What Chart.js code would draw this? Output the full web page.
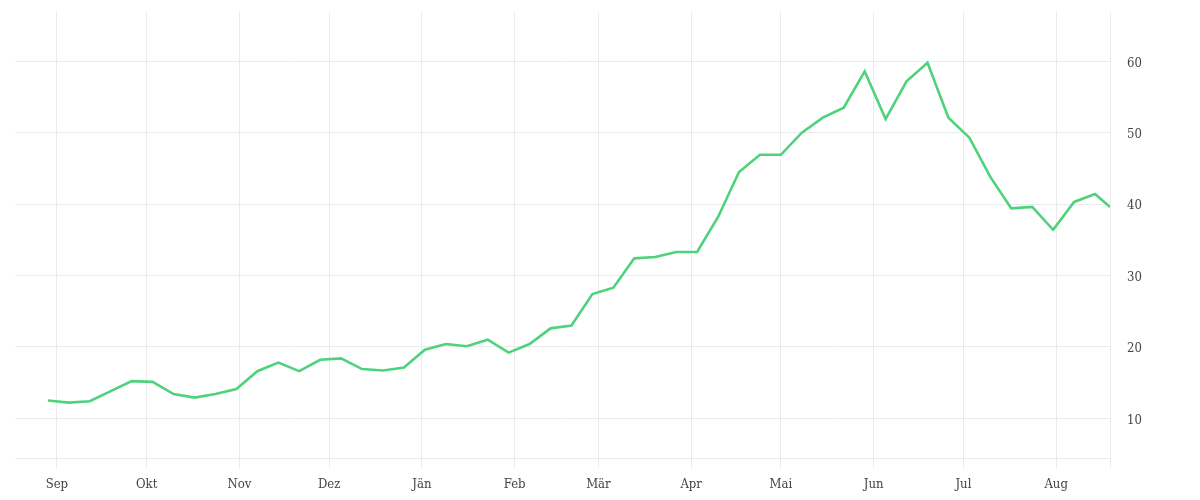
<!DOCTYPE html>
<html>
<head>
<meta charset="utf-8">
<script src="https://cdn.jsdelivr.net/npm/chart.js@4"></script>
<style>
  html, body { margin: 0; padding: 0; background: #fff; }
  #wrap { width: 1200px; height: 500px; }
</style>
</head>
<body>
<div id="wrap"><canvas id="c" width="1200" height="500"></canvas></div>
<script>
// ---- data ----
const dates = [
  "2022-08-29","2022-09-05","2022-09-12","2022-09-19","2022-09-26",
  "2022-10-03","2022-10-10","2022-10-17","2022-10-24","2022-10-31",
  "2022-11-07","2022-11-14","2022-11-21","2022-11-28",
  "2022-12-05","2022-12-12","2022-12-19","2022-12-26",
  "2023-01-02","2023-01-09","2023-01-16","2023-01-23","2023-01-30",
  "2023-02-06","2023-02-13","2023-02-20","2023-02-27",
  "2023-03-06","2023-03-13","2023-03-20","2023-03-27",
  "2023-04-03","2023-04-10","2023-04-17","2023-04-24",
  "2023-05-01","2023-05-08","2023-05-15","2023-05-22","2023-05-29",
  "2023-06-05","2023-06-12","2023-06-19","2023-06-26",
  "2023-07-03","2023-07-10","2023-07-17","2023-07-24","2023-07-31",
  "2023-08-07","2023-08-14","2023-08-19"
];
const values = [
  12.5, 12.2, 12.4, 13.8, 15.2,
  15.1, 13.4, 12.9, 13.4, 14.1,
  16.6, 17.8, 16.6, 18.2,
  18.4, 16.9, 16.7, 17.1,
  19.6, 20.4, 20.1, 21.0, 19.2,
  20.4, 22.6, 23.0, 27.4,
  28.3, 32.4, 32.6, 33.3,
  33.3, 38.2, 44.5, 46.9,
  46.9, 50.0, 52.1, 53.5, 58.6,
  51.9, 57.2, 59.8, 52.1,
  49.3, 43.8, 39.4, 39.6, 36.4,
  40.3, 41.4, 39.6
];
const monthStarts = ["2022-09-01","2022-10-01","2022-11-01","2022-12-01","2023-01-01","2023-02-01",
                     "2023-03-01","2023-04-01","2023-05-01","2023-06-01","2023-07-01","2023-08-01"];
const monthLabels = ["Sep","Okt","Nov","Dez","Jän","Feb","Mär","Apr","Mai","Jun","Jul","Aug"];
const yTicks = [10, 20, 30, 40, 50, 60];

// ---- helpers ----
const origin = Date.UTC(2022, 8, 1);
function dayOf(s) {
  const p = s.split("-").map(Number);
  return Math.round((Date.UTC(p[0], p[1] - 1, p[2]) - origin) / 86400000);
}
const xDays = dates.map(dayOf);
const monthDays = monthStarts.map(dayOf);
const xMax = xDays[xDays.length - 1];
const xMin = xMax - 366;

const points = xDays.map((d, i) => ({ x: d, y: values[i] }));
const FONT = { family: "'DejaVu Serif Condensed', 'DejaVu Serif', serif", size: 13 };
const GRID = '#ebebeb';

new Chart(document.getElementById('c'), {
  type: 'line',
  data: {
    datasets: [{
      data: points,
      borderColor: '#4fd27c',
      borderWidth: 2.6,
      pointRadius: 0,
      pointHoverRadius: 0,
      tension: 0,
      fill: false
    }]
  },
  options: {
    responsive: false,
    animation: false,
    devicePixelRatio: 1,
    layout: { padding: { left: 15, top: 12, right: 0, bottom: 0 } },
    plugins: { legend: { display: false }, tooltip: { enabled: false } },
    scales: {
      x: {
        type: 'linear',
        min: xMin,
        max: xMax,
        afterBuildTicks: (s) => {
          s.ticks = monthDays.map(v => ({ value: v })).concat([{ value: xMax }]);
        },
        afterFit: (s) => { s.height = 41.7; s.paddingLeft = 0; s.paddingRight = 0; },
        ticks: {
          autoSkip: false,
          maxRotation: 0,
          padding: 9,
          color: '#444',
          font: FONT,
          callback: (v, i) => (i < monthLabels.length ? monthLabels[i] : '')
        },
        grid: { color: GRID, lineWidth: 1, tickLength: 10, drawOnChartArea: true },
        border: { display: true, color: GRID, width: 1 }
      },
      y: {
        type: 'linear',
        position: 'right',
        min: 4.4,
        max: 66.9,
        afterBuildTicks: (s) => { s.ticks = yTicks.map(v => ({ value: v })); },
        afterFit: (s) => { s.width = 90; s.paddingTop = 0; s.paddingBottom = 0; },
        ticks: {
          padding: 17,
          labelOffset: 2,
          color: '#444',
          font: FONT,
          crossAlign: 'near'
        },
        grid: { color: GRID, lineWidth: 1, drawTicks: false },
        border: { display: false }
      }
    }
  }
});
</script>
</body>
</html>
